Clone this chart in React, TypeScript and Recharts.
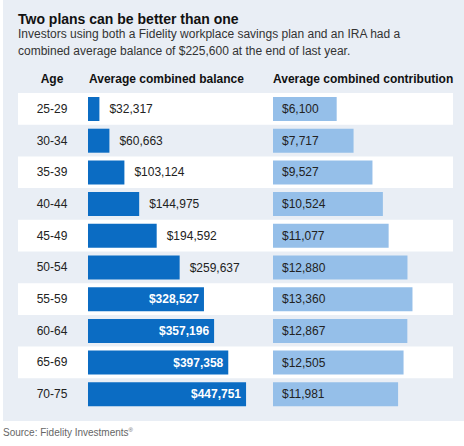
import { BarChart, Bar, XAxis, YAxis, ReferenceArea, LabelList } from 'recharts';

// Fidelity: average combined balance and contribution by age band
const ageGroups = ['25-29', '30-34', '35-39', '40-44', '45-49', '50-54', '55-59', '60-64', '65-69', '70-75'];
const balances = [32317, 60663, 103124, 144975, 194592, 259637, 328527, 357196, 397358, 447751];
const contributions = [6100, 7717, 9527, 10524, 11077, 12880, 13360, 12867, 12505, 11981];

const rows = ageGroups.map((age, i) => ({ age, balance: balances[i], contribution: contributions[i] }));

const DARK = '#0b6cc3';
const LIGHT = '#95bfe9';
const PANEL = '#e9eef5';
const FONT = '"Liberation Sans", Arial, sans-serif';
const MARGIN = { top: 93, right: 11, bottom: 36, left: 0 };

const money = (v: number) => '$' + v.toLocaleString('en-US');

function AgeTick({ y, payload }: any) {
  return (
    <text x={52} y={y} dy={4} textAnchor="middle" fontSize={12} fill="#222" fontFamily={FONT}>
      {payload.value}
    </text>
  );
}

function BalanceLabel({ x, y, width, height, value }: any) {
  const inside = value > 300000;
  return (
    <text
      x={inside ? x + width - 5 : x + width + 10}
      y={y + height / 2}
      dy={4}
      textAnchor={inside ? 'end' : 'start'}
      fontSize={12}
      fontWeight={inside ? 'bold' : 'normal'}
      fill={inside ? '#fff' : '#222'}
      fontFamily={FONT}
    >
      {money(value)}
    </text>
  );
}

function ContributionLabel({ x, y, height, value }: any) {
  return (
    <text x={x + 9} y={y + height / 2} dy={4} fontSize={12} fill="#222" fontFamily={FONT}>
      {money(value)}
    </text>
  );
}

export default function App() {
  return (
    <div style={{ position: 'absolute', left: 0, top: 0, width: 464, height: 446, background: '#fff', fontFamily: FONT }}>
      <div style={{ position: 'absolute', left: 3, top: 0, width: 461, height: 421, background: PANEL }} />
      <div style={{ position: 'absolute', left: 18, top: 11, fontSize: 14, fontWeight: 'bold', color: '#111' }}>
        Two plans can be better than one
      </div>
      <div style={{ position: 'absolute', left: 18, top: 26, fontSize: 12, lineHeight: '17px', color: '#333', width: 440 }}>
        Investors using both a Fidelity workplace savings plan and an IRA had a
        <br />
        combined average balance of $225,600 at the end of last year.
      </div>
      <div style={{ position: 'absolute', top: 72, left: 0, fontSize: 12, fontWeight: 'bold', color: '#111' }}>
        <span style={{ position: 'absolute', left: 52, transform: 'translateX(-50%)' }}>Age</span>
        <span style={{ position: 'absolute', left: 89, whiteSpace: 'nowrap' }}>Average combined balance</span>
        <span style={{ position: 'absolute', left: 273, whiteSpace: 'nowrap' }}>Average combined contribution</span>
      </div>

      {/* balance bars, row bands and age labels */}
      <div style={{ position: 'absolute', left: 0, top: 0 }}>
        <BarChart width={464} height={446} data={rows} layout="vertical" margin={MARGIN}>
          <XAxis type="number" domain={[-198300, 1034000]} allowDataOverflow hide />
          <YAxis
            type="category"
            dataKey="age"
            width={18}
            axisLine={false}
            tickLine={false}
            tick={<AgeTick />}
            interval={0}
          />
          {ageGroups
            .filter((_, i) => i % 2 === 0)
            .map((age) => (
              <ReferenceArea key={age} y1={age} y2={age} fill="#fff" fillOpacity={1} stroke="none" ifOverflow="visible" />
            ))}
          <Bar dataKey="balance" fill={DARK} barSize={24} isAnimationActive={false}>
            <LabelList dataKey="balance" content={<BalanceLabel />} />
          </Bar>
        </BarChart>
      </div>

      {/* contribution bars, overlaid on the same rows */}
      <div style={{ position: 'absolute', left: 0, top: 0 }}>
        <BarChart width={464} height={446} data={rows} layout="vertical" margin={{ ...MARGIN, left: 18 }}>
          <XAxis type="number" domain={[-24425, 17241]} allowDataOverflow hide />
          <YAxis type="category" dataKey="age" hide />
          <Bar dataKey="contribution" fill={LIGHT} barSize={24} isAnimationActive={false}>
            <LabelList dataKey="contribution" content={<ContributionLabel />} />
          </Bar>
        </BarChart>
      </div>

      <div style={{ position: 'absolute', left: 3, top: 427, fontSize: 10, color: '#666' }}>
        Source: Fidelity Investments<sup style={{ fontSize: 6 }}>®</sup>
      </div>
    </div>
  );
}
